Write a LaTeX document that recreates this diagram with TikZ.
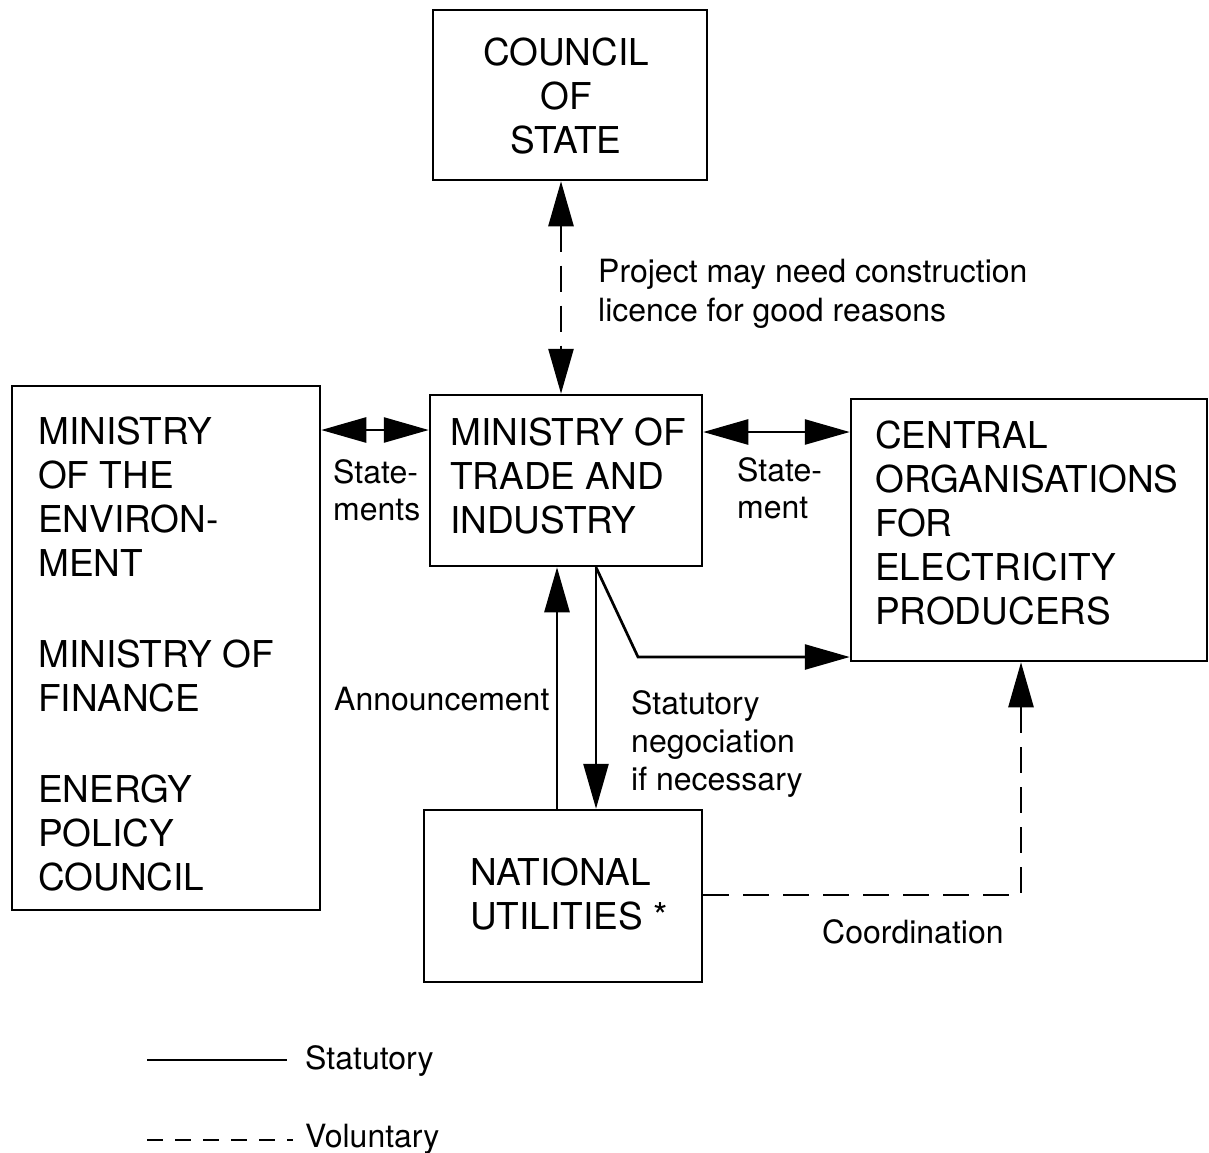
\documentclass[tikz,border=0pt]{standalone}
\usepackage{fontspec}
\setmainfont{TeX Gyre Heros}
\usetikzlibrary{arrows.meta}
\begin{document}
\begin{tikzpicture}[x=1pt,y=-1pt,
  box/.style={draw,line width=2.5pt,inner sep=0pt},
  boxtext/.style={inner sep=0pt,align=left,font=\fontsize{37}{44}\selectfont},
  lbl/.style={inner sep=0pt,align=left,font=\fontsize{32}{38}\selectfont},
  conn/.style={line width=2.7pt},
  vol/.style={conn,dash pattern=on 26pt off 14pt},
  tip/.style={-{Triangle[length=45pt,width=25pt]}},
  twotip/.style={{Triangle[length=45pt,width=25pt]}-{Triangle[length=45pt,width=25pt]}}]
\useasboundingbox (0,0) rectangle (1209,1152);

% organisations
\node[box,minimum width=274pt,minimum height=170pt] (cos) at (570,95) {};
\node[box,minimum width=272pt,minimum height=171pt] (mti) at (566,480.5) {};
\node[box,minimum width=308pt,minimum height=524pt] (mle) at (166,648) {};
\node[box,minimum width=356pt,minimum height=262pt] (cop) at (1029,530) {};
\node[box,minimum width=278pt,minimum height=172pt] (nut) at (563,896) {};

% box texts, each placed by the baseline of its last line
\node[boxtext,align=center,anchor=base] (cos-t) at (566,153) {COUNCIL\\OF\\STATE};
\node[boxtext,anchor=base west] (mti-t) at (450,533) {MINISTRY OF\\TRADE AND\\INDUSTRY};
\node[boxtext,anchor=base west] (mle-t) at (38,890)
  {MINISTRY\\OF THE\\ENVIRON-\\MENT\\[47pt]MINISTRY OF\\FINANCE\\[47pt]ENERGY\\POLICY\\COUNCIL};
\node[boxtext,anchor=base west] (cop-t) at (875,624)
  {CENTRAL\\ORGANISATIONS\\FOR\\ELECTRICITY\\PRODUCERS};
\node[boxtext,anchor=base west] (nut-t) at (470,929) {NATIONAL\\UTILITIES *};

% relations
\draw[vol,twotip] (561,0 |- cos.south) -- (561,0 |- mti.north);
\draw[conn,twotip] (mle.east |- 0,430) -- (mti.west |- 0,430);
\draw[conn,twotip] (mti.east |- 0,432) -- (cop.west |- 0,432);
\draw[conn,tip] ([xshift=-9pt]mti.south |- nut.north) -- ([xshift=-9pt]mti.south);
\draw[conn,tip] ([xshift=30pt]mti.south) -- ([xshift=30pt]mti.south |- nut.north);
\coordinate (bend) at (638,657);
\draw[conn,tip] ([xshift=30pt]mti.south) -- (bend) -- (cop.west |- bend);
\coordinate (corner) at (1021,895);
\draw[vol,tip] (nut.east |- corner) -- (corner) -- (corner |- cop.south);

% labels
\node[lbl,anchor=base west] (l-cos) at (598,321) {Project may need construction\\[1pt]licence for good reasons};
\node[lbl,anchor=base west] (l-left) at (333,520) {State-\\[-1pt]ments};
\node[lbl,anchor=base west] (l-right) at (737,518) {State-\\[-1pt]ment};
\node[lbl,anchor=base west] (l-ann) at (334,710) {Announcement};
\node[lbl,anchor=base west] (l-neg) at (631,790) {Statutory\\negociation\\if necessary};
\node[lbl,anchor=base west] (l-coo) at (822,943) {Coordination};

% legend
\node[lbl,anchor=base west] (k-stat) at (305,1069) {Statutory};
\node[lbl,anchor=base west] (k-vol) at (305,1147) {Voluntary};
\draw[line width=2.2pt] (147,1060) -- (287,1060);
\draw[line width=2.2pt,dash pattern=on 16pt off 12pt] (147,1140) -- (293,1140);
\end{tikzpicture}
\end{document}
